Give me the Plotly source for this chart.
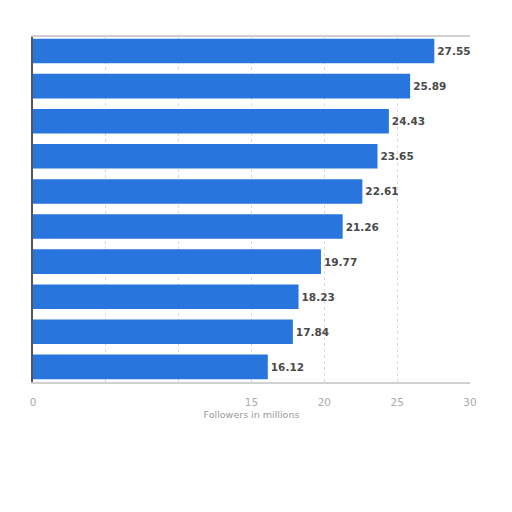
import plotly.graph_objects as go

# ranks top to bottom, followers in millions
ranks = [0, 1, 2, 3, 4, 5, 6, 7, 8, 9]
followers = [27.55, 25.89, 24.43, 23.65, 22.61, 21.26, 19.77, 18.23, 17.84, 16.12]
tick_vals = [0, 5, 10, 15, 20, 25, 30]
tick_text = ["0", "", "", "15", "20", "25", "30"]

fig = go.Figure()
fig.add_trace(go.Bar(
    x=followers,
    y=ranks,
    orientation="h",
    marker=dict(color="#2876DD", line=dict(width=0)),
    text=[f"{v:.2f}" for v in followers],
    textposition="outside",
    textfont=dict(family="DejaVu Sans, Arial", size=10.5, color="#4a4a4a", weight="bold"),
    cliponaxis=False,
    hovertemplate="%{x:.2f}<extra></extra>",
))

# page body adds ~8px offset, margins compensate for it
fig.update_layout(
    width=512,
    height=512,
    margin=dict(l=25, r=50, t=29, b=138),
    paper_bgcolor="white",
    plot_bgcolor="white",
    bargap=0.3,
    showlegend=False,
    font=dict(family="DejaVu Sans, Arial", color="#888888"),
)
fig.update_xaxes(
    range=[0, 30],
    tickvals=tick_vals,
    ticktext=tick_text,
    tickfont=dict(size=10.5, color="#aaaaaa"),
    showgrid=True,
    gridcolor="#D8D8D8",
    griddash="dot",
    gridwidth=1,
    zeroline=False,
    showline=True,
    mirror=True,
    linecolor="#D0D0D0",
    linewidth=2,
    ticks="",
    ticklabelstandoff=9,
    title=dict(text="Followers in millions", font=dict(size=9.5, color="#999999"), standoff=5),
    fixedrange=True,
)
fig.update_yaxes(
    range=[9.43, -0.4],
    showticklabels=False,
    showgrid=False,
    zeroline=False,
    showline=True,
    linecolor="#555555",
    linewidth=2,
    ticks="",
    fixedrange=True,
)

fig.write_html("out.html")
